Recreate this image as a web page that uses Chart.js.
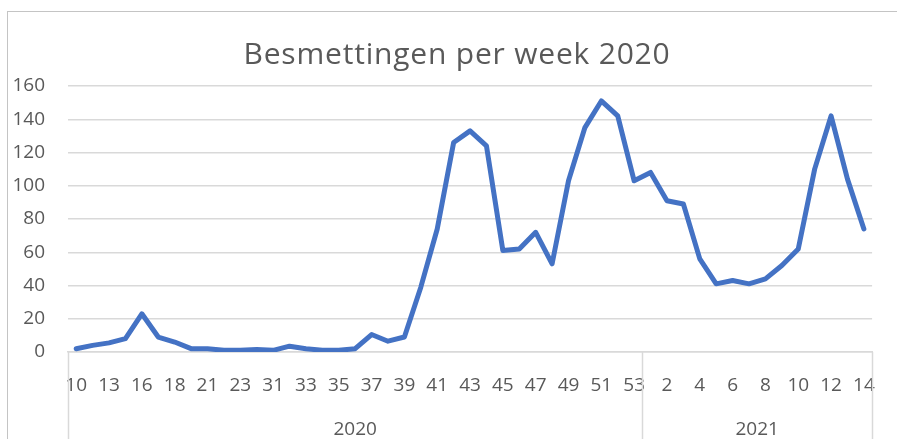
<!DOCTYPE html>
<html>
<head>
<meta charset="utf-8">
<script src="https://cdn.jsdelivr.net/npm/chart.js@4"></script>
<style>
  html, body { margin: 0; padding: 0; background: #fff; }
  #wrap { width: 897px; height: 439px; }
</style>
</head>
<body>
<div id="wrap"><canvas id="chart"></canvas></div>
<script>
// weken (2020 loopt tot week 53, daarna 2021)
const weeks2020 = [10, 12, 13, 15, 16, 17, 18, 20, 21, 22, 23, 30, 31, 32, 33, 34, 35, 36, 37, 38,
  39, 40, 41, 42, 43, 44, 45, 46, 47, 48, 49, 50, 51, 52, 53];
const weeks2021 = [1, 2, 3, 4, 5, 6, 7, 8, 9, 10, 11, 12, 13, 14];
const years = ['2020', '2021'];

const cases2020 = [2, 4, 5.5, 8, 23, 9, 6, 2, 2, 1, 1, 1.5, 1, 3.5, 2, 1, 1, 2, 10.5, 6.5,
  9, 39, 74, 126, 133, 124, 61, 62, 72, 53, 103, 135, 151, 142, 103];
const cases2021 = [108, 91, 89, 56, 41, 43, 41, 44, 52, 62, 110, 142, 104, 74];

const titleText = 'Besmettingen per week 2020';
const labels = [...weeks2020, ...weeks2021].map(String);
const values = [...cases2020, ...cases2021];

const textColor = '#595959';
const gridColor = '#d9d9d9';
const fontFamily = '"Open Sans", "Liberation Sans", sans-serif';

// frame, titel en jaar-groepen onder de as (zoals Excel multi-level as)
const excelLook = {
  id: 'excelLook',
  beforeDraw(chart) {
    const ctx = chart.ctx;
    ctx.save();
    ctx.strokeStyle = '#c4c4c4';
    ctx.lineWidth = 1;
    ctx.strokeRect(7.5, 11.5, 1000, 1000);

    // titel staat in Excel gecentreerd over het hele kader, niet over de plot
    ctx.fillStyle = textColor;
    ctx.font = '30px ' + fontFamily;
    ctx.letterSpacing = '0.8px';
    ctx.textAlign = 'center';
    ctx.textBaseline = 'alphabetic';
    ctx.fillText(titleText, 457, 64);
    ctx.restore();
  },
  afterDraw(chart) {
    const { ctx, chartArea } = chart;
    const x = chart.scales.x;
    const split = (x.getPixelForValue(weeks2020.length - 1) + x.getPixelForValue(weeks2020.length)) / 2;
    const edges = [chartArea.left, split, chartArea.right];
    ctx.save();
    ctx.strokeStyle = gridColor;
    ctx.lineWidth = 1.5;
    edges.forEach(e => {
      ctx.beginPath();
      ctx.moveTo(Math.round(e) + 0.5, chartArea.bottom);
      ctx.lineTo(Math.round(e) + 0.5, chart.height);
      ctx.stroke();
    });
    ctx.fillStyle = textColor;
    ctx.font = '19px ' + fontFamily;
    ctx.textAlign = 'center';
    ctx.textBaseline = 'middle';
    years.forEach((y, i) => {
      ctx.fillText(y, (edges[i] + edges[i + 1]) / 2, 430);
    });
    ctx.restore();
  }
};

new Chart(document.getElementById('chart'), {
  type: 'line',
  data: {
    labels,
    datasets: [{
      data: values,
      borderColor: '#4472C4',
      borderWidth: 5,
      pointRadius: 0,
      borderJoinStyle: 'round',
      borderCapStyle: 'round',
      tension: 0
    }]
  },
  options: {
    responsive: true,
    maintainAspectRatio: false,
    animation: false,
    layout: { padding: { top: 86, right: 24, left: 0, bottom: 0 } },
    plugins: {
      legend: { display: false },
      tooltip: { enabled: false },
      title: { display: false }
    },
    scales: {
      x: {
        offset: true,
        grid: { display: false, drawTicks: false },
        border: { display: true, color: gridColor, width: 1.5 },
        afterFit: s => { s.height = 87; },
        ticks: {
          autoSkip: false,
          maxRotation: 0,
          padding: 22,
          color: textColor,
          font: { family: fontFamily, size: 19 },
          callback: (v, i) => (i % 2 === 0 ? labels[i] : '')
        }
      },
      y: {
        min: 0,
        max: 160,
        afterFit: s => { s.width = 68; },
        grid: { color: gridColor, lineWidth: 1.5, drawTicks: false },
        border: { display: false },
        ticks: {
          stepSize: 20,
          padding: 23,
          color: textColor,
          font: { family: fontFamily, size: 19 }
        }
      }
    }
  },
  plugins: [excelLook]
});
</script>
</body>
</html>
